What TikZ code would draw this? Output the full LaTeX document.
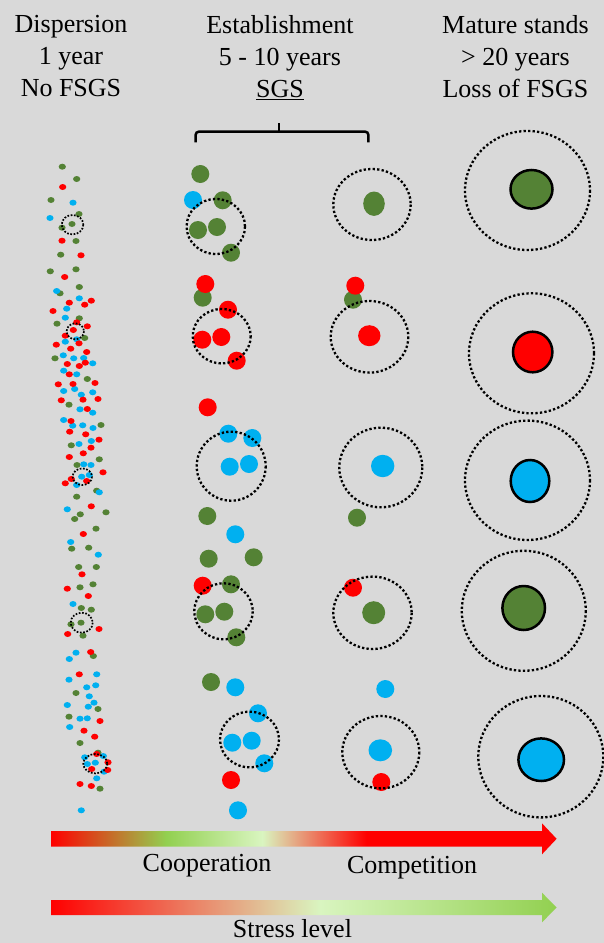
\documentclass[tikz,border=0pt]{standalone}
\usepackage{fontspec}
\setmainfont{Liberation Serif}
\usepackage{tikz}
\definecolor{bgGray}{RGB}{217,217,217}
\definecolor{dGreen}{RGB}{84,130,53}
\definecolor{sBlue}{RGB}{0,176,240}
\definecolor{sRed}{RGB}{255,0,0}
\definecolor{lGreen}{RGB}{146,208,80}
\definecolor{pGreen}{RGB}{217,245,192}
\pgfdeclarehorizontalshading{coopshade}{100bp}{color(0bp)=(sRed); color(25bp)=(sRed); color(36.4bp)=(lGreen); color(45.9bp)=(pGreen); color(56.2bp)=(sRed); color(75bp)=(sRed); color(100bp)=(sRed)}
\pgfdeclarehorizontalshading{stressshade}{100bp}{color(0bp)=(sRed); color(25bp)=(sRed); color(51.6bp)=(pGreen); color(75bp)=(lGreen); color(100bp)=(lGreen)}

\begin{document}
\begin{tikzpicture}[x=1pt,y=-1pt,
  hd/.style={font=\fontsize{26}{31.7}\selectfont,align=center,inner sep=0pt},
  lb/.style={font=\fontsize{26}{31.7}\selectfont,inner sep=0pt,anchor=base},
  halo/.style={draw=black,line width=2.3pt,dash pattern=on 2.3pt off 2.2pt},
  halos/.style={draw=black,line width=1.7pt,dash pattern=on 1.7pt off 1.6pt},
  big/.style={draw=black,line width=2.5pt},
  brace/.style={draw=black,line width=2.5pt,rounded corners=3pt}]
  \useasboundingbox (0,0) rectangle (604,943);
  \fill[bgGray] (0,0) rectangle (604,943);
  % headings
  \node[hd,anchor=north] (disp) at (71,15.5) {Dispersion\\1 year\\No FSGS};
  \node[hd,anchor=north] (estab) at (280,15.5) {Establishment\\5 - 10 years\\\underline{SGS}};
  \node[hd,anchor=north] (mature) at (515.5,15.5) {Mature stands\\> 20 years\\Loss of FSGS};
  \draw[brace] (195.7,142.3) -- (195.7,131.7) -- (368.3,131.7) -- (368.3,142.3);
  \draw[brace] (279,131.7) -- (279,122.7);
  % dispersion: seed rain
  \foreach \x/\y in {62.3/166.7,76.7/179,51/200,79/214,72/224,62/227.7,76/241,60.7/254.7,50.3/271.3,76/269.3,
    79.3/287,60/293.3,79.3/318.3,57/323.7,84.7/338,55/358.3,87.3/379,69/404.7,101/425,71.3/445.3,
    99.3/459.3,77/465,96.7/490.7,76.7/496.7,106/512.3,80.3/514.3,74.7/519,96/528.7,71.7/548.7,88.7/547.7,
    78.7/567,96.3/567,80/587.3,93/584.3,81.3/608,91.3/609.7,81/622.7,71/624.3,83/635.7,93.3/656,
    76/693,98/709,69/716.7,80/743,98/752.7,100/788.7}
    \fill[dGreen] (\x,\y) ellipse [x radius=3.6,y radius=3];
  \foreach \x/\y in {73/202.7,50/218,56.7/291,79.3/298.3,66.7/308.7,65.3/317.7,76.7/339.3,65.3/341.7,63.3/355.3,73.7/358.3,
    83.7/358,92.7/363.3,63.7/370.7,76.7/374.3,63.7/391,74.7/389,92.7/392.3,81.3/394.7,80/409.3,92.7/412.7,
    63.7/420,72.7/425.7,82.7/425.3,93/428,91.3/441,79/444,83.7/464.3,91/465,81.7/476.7,89.3/475,
    76.7/485,99.3/492.3,67.3/509.3,70.7/542,98.3/554.7,73/604,76/652.7,69.3/659,96.7/674.3,69/679.7,
    86.7/687.3,95.7/685.3,89.3/696.3,94/702.7,67.3/705,88.3/706.7,80/718.7,87.3/718.3,69.7/727,84.7/757.3,
    103.3/756,87.3/764,95.3/762.7,104/771.7,96.7/778.3,81.3/810.3}
    \fill[sBlue] (\x,\y) ellipse [x radius=3.6,y radius=3];
  \foreach \x/\y in {62.7/187,62/240.7,81/255.3,64.7/277,91.3/300.7,69.3/302.7,84.7/304.7,53/311,76.7/322.3,87.3/326.3,
    73.3/330,65.3/335.7,79/343.3,56.3/344.7,70.7/348.7,86.7/352,85.3/362.7,79.3/366,67.3/364,69.3/374.3,
    95/383,58.3/384.3,73/384,61.3/400.3,83/399.7,98/399,87.3/409,71/421,69.7/431.7,85.7/434.3,
    99/439.7,91/447.7,83.3/453.3,69.3/457,103/472.3,71.3/479,65.3/483.3,86.7/481,91.3/506.3,83.3/534,
    82/574.3,67.3/588.7,88.3/596,99/629,67.7/634,90.7/652,79.3/674.3,100/721,84/730.7,94.7/736.7,
    96.7/754,108/762.3,91.7/769,107.7/770,80/784,91.3/786}
    \fill[sRed] (\x,\y) ellipse [x radius=3.6,y radius=3];
  \foreach \x/\y/\rx/\ry in {72.5/224.7/10.8/9.7,75.3/331.3/8.7/8,82.3/476.7/9.7/8.3,81.7/622.7/11/10,95.3/763.7/12/9.7}
    \draw[halos] (\x,\y) ellipse [x radius=\rx,y radius=\ry];
  % establishment: saplings
  \foreach \x/\y in {200.3/174,222.7/200.3,198/230,217/227,231/252.7,202.7/297.7,207.3/516,208.7/558.7,253.7/557.3,
    231/584.3,205.3/614.3,224.3/611.7,236.3/637.3,211/682,357/517.7,353/299.7}
    \fill[dGreen] (\x,\y) circle [radius=9];
  \foreach \x/\y in {193/200,228.3/433.7,252.3/438,229.7/466.7,249/464,235.3/534.3,235.3/687.3,258/713.3,232.3/742.7,
    251.7/740.7,264.3/763.3,238/810.3,385.3/689}
    \fill[sBlue] (\x,\y) circle [radius=9];
  \foreach \x/\y in {205.3/284,228/309.7,202.3/339.7,221.3/337,236.7/360.7,207.7/407.3,202.7/585.7,231/780,
    355.3/285.7,353/587.7,381.3/782}
    \fill[sRed] (\x,\y) circle [radius=9];
  \fill[dGreen] (374,203.7) ellipse [x radius=10.8,y radius=12.2];
  \fill[sRed] (369.3,335.7) ellipse [x radius=11.2,y radius=10.5];
  \fill[sBlue] (382.7,466) ellipse [x radius=11.7,y radius=11.2];
  \fill[dGreen] (373.7,612.7) ellipse [x radius=11.5,y radius=11.5];
  \fill[sBlue] (380.3,750.3) ellipse [x radius=11.8,y radius=11];
  \foreach \x/\y/\rx/\ry in {215.8/226.5/29.2/27.5,221.7/336.2/29/27.2,231.2/466.2/34.5/34.5,223.5/611.3/29.2/28,249.5/739.5/29.5/27.8,
    372/204.5/38.7/35.5,369.5/336.8/38.8/35.8,380.8/467.5/41.5/39.8,372.5/612.8/39.2/36.2,380.8/752.2/38.5/36.2}
    \draw[halo] (\x,\y) ellipse [x radius=\rx,y radius=\ry];
  % mature stands
  \draw[big,fill=dGreen] (531.5,189.3) ellipse [x radius=21,y radius=19.3];
  \draw[big,fill=sRed] (532.7,352) ellipse [x radius=19.7,y radius=20.3];
  \draw[big,fill=sBlue] (530,481) ellipse [x radius=19.3,y radius=21];
  \draw[big,fill=dGreen] (523.7,608) ellipse [x radius=21.3,y radius=22];
  \draw[big,fill=sBlue] (541.2,759.7) ellipse [x radius=22.8,y radius=21.3];
  \foreach \x/\y/\rx/\ry in {527.5/190.5/62.5/59.5,531.5/353.3/62.5/60,527.5/480.3/62.5/59.7,523.8/610.8/62/60,540.8/756.7/62.5/60.7}
    \draw[halo] (\x,\y) ellipse [x radius=\rx,y radius=\ry];
  % gradient arrows
  \shade[shading=coopshade] (51,831) -- (542,831) -- (542,823.3) -- (556.6,838.8) -- (542,854.3) -- (542,846.7) -- (51,846.7) -- cycle;
  \shade[shading=stressshade] (51,900) -- (542,900) -- (542,892.7) -- (556.6,907.5) -- (542,922.3) -- (542,915) -- (51,915) -- cycle;
  \node[lb] (coop) at (207,871.7) {Cooperation};
  \node[lb] (comp) at (412,873.3) {Competition};
  \node[lb] (stress) at (292.4,937) {Stress level};
\end{tikzpicture}
\end{document}
